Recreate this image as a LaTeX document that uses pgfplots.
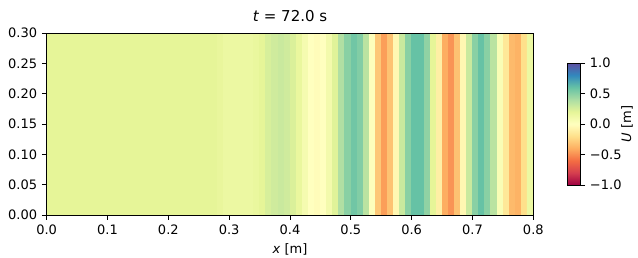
\documentclass[border=0pt]{standalone}
\usepackage{pgfplots}
\usepackage{pgfplotstable}
\pgfplotsset{compat=1.18}
\usepackage{fontspec}
\setmainfont{DejaVu Sans}
\pgfplotsset{
 colormap={spectral}{rgb255=(158,1,66) rgb255=(213,62,79) rgb255=(244,109,67) rgb255=(253,174,97) rgb255=(254,224,139) rgb255=(255,255,191) rgb255=(230,245,152) rgb255=(171,221,164) rgb255=(102,194,165) rgb255=(50,136,189) rgb255=(94,79,162)}
}
\pgfplotstableread{
x c
0.005 0.2
0.015 0.2
0.025 0.2
0.035 0.2
0.045 0.2
0.055 0.2
0.065 0.2
0.075 0.2
0.085 0.2
0.095 0.2
0.105 0.2
0.115 0.2
0.125 0.2
0.135 0.2
0.145 0.2
0.155 0.2
0.165 0.2
0.175 0.2
0.185 0.2
0.195 0.2
0.205 0.2
0.215 0.2
0.225 0.2
0.235 0.2
0.245 0.2
0.255 0.2
0.265 0.2
0.275 0.2
0.285 0.18
0.295 0.15
0.305 0.15
0.315 0.15
0.325 0.15
0.335 0.15
0.345 0.17
0.355 0.2
0.365 0.25
0.375 0.28
0.385 0.3
0.395 0.28
0.405 0.24
0.415 0.17
0.425 0.08
0.435 0.0
0.445 -0.02
0.455 0.0
0.465 0.1
0.475 0.22
0.485 0.38
0.495 0.5
0.505 0.57
0.515 0.52
0.525 0.35
0.535 0.02
0.545 -0.3
0.555 -0.45
0.565 -0.32
0.575 -0.05
0.585 0.3
0.595 0.5
0.605 0.6
0.615 0.6
0.625 0.48
0.635 0.2
0.645 -0.1
0.655 -0.4
0.665 -0.48
0.675 -0.32
0.685 -0.05
0.695 0.3
0.705 0.5
0.715 0.6
0.725 0.5
0.735 0.35
0.745 0.05
0.755 -0.15
0.765 -0.35
0.775 -0.38
0.785 -0.2
0.795 0.15
}\stripdata
\pgfplotstablevertcat{\meshdata}{\stripdata}
\pgfplotstablevertcat{\meshdata}{\stripdata}
\begin{document}
\begin{tikzpicture}
\begin{axis}[
  name=main,
  at={(0,0)}, anchor=south west,
  width=365pt, height=136.5pt, scale only axis,
  xmin=0, xmax=0.8, ymin=0, ymax=0.3,
  enlargelimits=false, axis on top,
  colormap name=spectral, point meta min=-1, point meta max=1,
  xtick={0,0.1,0.2,0.3,0.4,0.5,0.6,0.7,0.8},
  xticklabels={0.0,0.1,0.2,0.3,0.4,0.5,0.6,0.7,0.8},
  ytick={0,0.05,0.1,0.15,0.2,0.25,0.3},
  yticklabels={0.00,0.05,0.10,0.15,0.20,0.25,0.30},
  xtick pos=left, ytick pos=left,
  tick align=outside, major tick length=3.65pt,
  every tick/.style={black, line width=0.6pt},
  axis line style={line width=0.6pt},
  tick label style={font=\fontsize{9.75}{11}\selectfont},
  title={\textit{t} = 72.0 s},
  title style={font=\fontsize{11.25}{13}\selectfont, yshift=-1pt},
  xlabel={\textit{x} [m]},
  label style={font=\fontsize{9.75}{11}\selectfont},
  colorbar,
  colorbar style={
    at={(parent axis.east)}, anchor=west, xshift=17pt,
    width=9.75pt, height=91.5pt, scale only axis,
    ytick={-1,-0.5,0,0.5,1},
    yticklabels={−1.0,−0.5,0.0,0.5,1.0},
    ytick pos=right, yticklabel pos=right,
    tick align=outside, major tick length=3.65pt,
    every tick/.style={black, line width=0.6pt},
    axis line style={line width=0.6pt},
    tick label style={font=\fontsize{9.75}{11}\selectfont},
    ylabel={\textit{U} [m]},
    ylabel shift=-7pt,
    ylabel style={font=\fontsize{9.75}{11}\selectfont},
  },
]
\addplot[matrix plot*, mesh/cols=80, mesh/rows=2, point meta=explicit]
  table[x=x, y expr={\coordindex<80 ? 0.075 : 0.225}, meta=c] {\meshdata};
\end{axis}
\pgfresetboundingbox
\useasboundingbox (-35pt,-31.5pt) rectangle (443.5pt,161.25pt);
\end{tikzpicture}
\end{document}
